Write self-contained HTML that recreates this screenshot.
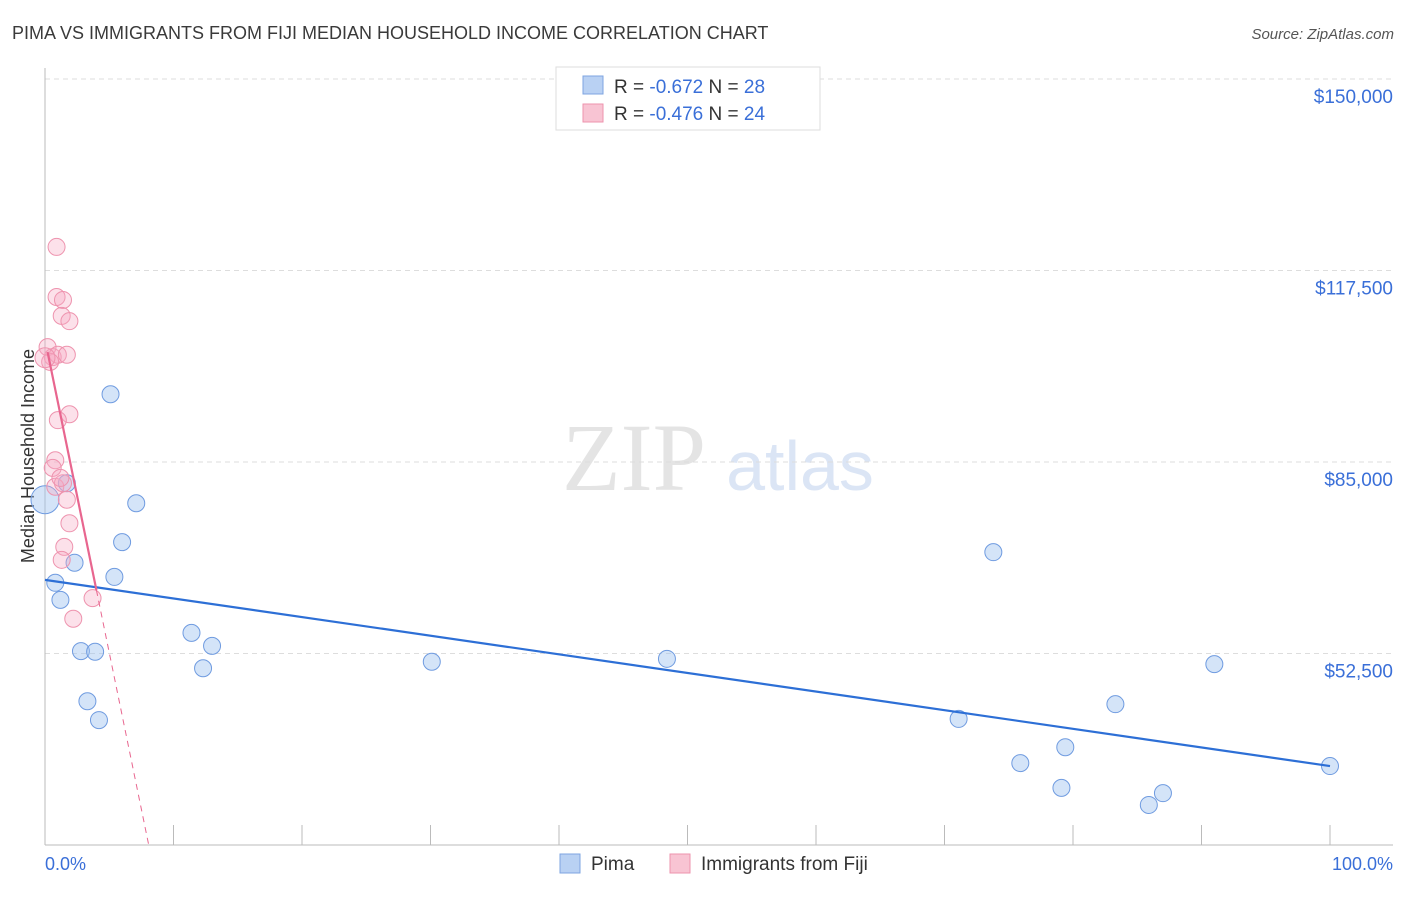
<!DOCTYPE html>
<html><head><meta charset="utf-8"><style>
body{margin:0;background:#fff;font-family:"Liberation Sans",sans-serif}
</style></head><body>
<svg id="c" width="1406" height="892" xmlns="http://www.w3.org/2000/svg" font-family="Liberation Sans, sans-serif">
<text x="12" y="39" font-size="18" fill="#3a3a3a">PIMA VS IMMIGRANTS FROM FIJI MEDIAN HOUSEHOLD INCOME CORRELATION CHART</text>
<text x="1394" y="39" font-size="15" fill="#555" text-anchor="end" font-style="italic">Source: ZipAtlas.com</text>
<text x="634" y="490" font-size="96" fill="#e4e4e4" text-anchor="middle" font-family="Liberation Serif, serif">ZIP</text>
<text x="800" y="490" font-size="70" fill="#dbe5f5" text-anchor="middle">atlas</text>
<text transform="translate(34,456) rotate(-90)" font-size="18" fill="#333" text-anchor="middle">Median Household Income</text>
<g id="grid"></g><g id="marks"></g>
<text x="45" y="870" font-size="18" fill="#3a6fd8">0.0%</text>
<text x="1393" y="870" font-size="18" fill="#3a6fd8" text-anchor="end">100.0%</text>
<g>
<rect x="556" y="67" width="264" height="63" fill="#fff" stroke="#ddd"/>
<rect x="583" y="76" width="20" height="18" fill="#b9d1f3" stroke="#7ea4e0"/>
<rect x="583" y="104" width="20" height="18" fill="#f8c4d3" stroke="#ee93ae"/>
<text x="614" y="93" font-size="19" fill="#333">R = <tspan fill="#3a6fd8">-0.672</tspan>    N = <tspan fill="#3a6fd8">28</tspan></text>
<text x="614" y="120" font-size="19" fill="#333">R = <tspan fill="#3a6fd8">-0.476</tspan>    N = <tspan fill="#3a6fd8">24</tspan></text>
</g>
<g>
<rect x="560" y="854" width="20" height="19" fill="#b9d1f3" stroke="#7ea4e0"/>
<text x="591" y="870" font-size="19" fill="#333">Pima</text>
<rect x="670" y="854" width="20" height="19" fill="#f8c4d3" stroke="#ee93ae"/>
<text x="701" y="870" font-size="19" fill="#333">Immigrants from Fiji</text>
</g>
</svg>
<script>
const yTicks=[150000,117500,85000,52500];
const yTickLabels=["$150,000","$117,500","$85,000","$52,500"];
const pimaX=[5.1,7.1,6.0,5.4,2.3,0.8,1.2,11.4,13.0,12.3,2.8,3.9,3.3,4.2,30.1,48.4,73.8,71.1,75.9,79.4,79.1,83.3,85.9,87.0,91.0,100,1.7,0];
const pimaY=[96500,78000,71400,65500,67900,64500,61600,56000,53800,50000,52900,52800,44400,41200,51100,51600,69700,41400,33900,36600,29700,43900,26800,28800,50700,33400,81400,78600];
const fijiX=[0.9,0.9,1.4,1.3,1.9,0.2,0.6,1.0,1.7,0.4,1.9,1.0,0.8,0.6,0.8,1.4,1.7,1.9,1.5,1.3,2.2,3.7,1.2,0.0];
const fijiY=[121500,113000,112500,109800,108900,104500,102800,103200,103200,102000,93100,92100,85300,84000,80800,81400,78600,74600,70600,68400,58400,61900,82300,102700];
const pimaTrend=[65000,33400]; // at x=0 and x=100
const fijiTrend=[105800,-10630]; // intercept, slope per %
const NS="http://www.w3.org/2000/svg";
const X=v=>45+v*12.85, Y=v=>79+(150000-v)/169.71;
function mk(t,a,p){const e=document.createElementNS(NS,t);for(const k in a)e.setAttribute(k,a[k]);document.getElementById(p).appendChild(e);return e;}
yTicks.forEach((t,i)=>{
 const l=mk('line',{x1:45,x2:1393,y1:Y(t),y2:Y(t),stroke:'#ddd','stroke-dasharray':'5,4'},'grid');
 
 
 const tx=mk('text',{x:1393,y:Y(t)+24,'font-size':19,fill:'#3a6fd8','text-anchor':'end'},'grid');
 tx.textContent=yTickLabels[i];
 
 
});
let ax=mk('line',{x1:45,x2:45,y1:68,y2:845,stroke:'#bbb'},'grid');


ax=mk('line',{x1:45,x2:1393,y1:845,y2:845,stroke:'#bbb'},'grid');


for(let i=1;i<=10;i++){const t=mk('line',{x1:X(i*10),x2:X(i*10),y1:825,y2:845,stroke:'#bbb'},'grid');
 
 }
pimaX.forEach((x,i)=>{const big=(i===pimaX.length-1);
 const c=mk('circle',{cx:X(x),cy:Y(pimaY[i]),r:big?14:8.5,fill:'rgba(160,195,240,0.45)',stroke:'#6f9be0','stroke-width':1},'marks');
 
 });
fijiX.forEach((x,i)=>{const big=(i===fijiX.length-1);
 const c=mk('circle',{cx:X(x),cy:Y(fijiY[i]),r:big?10:8.5,fill:'rgba(245,170,195,0.35)',stroke:'#ee93ae','stroke-width':1},'marks');
 
 });
let l=mk('line',{x1:X(0),y1:Y(pimaTrend[0]),x2:X(100),y2:Y(pimaTrend[1]),stroke:'#2d6fd6','stroke-width':2.2},'marks');


const fy=x=>fijiTrend[0]+fijiTrend[1]*x;
l=mk('line',{x1:X(0.2),y1:Y(fy(0.2)),x2:X(4),y2:Y(fy(4)),stroke:'#e8668f','stroke-width':2.2},'marks');


const xEnd=(20000-fijiTrend[0])/fijiTrend[1];
l=mk('line',{x1:X(4),y1:Y(fy(4)),x2:X(xEnd),y2:Y(fy(xEnd)),stroke:'#e8668f','stroke-width':1,'stroke-dasharray':'6,5'},'marks');


</script>
</body></html>
